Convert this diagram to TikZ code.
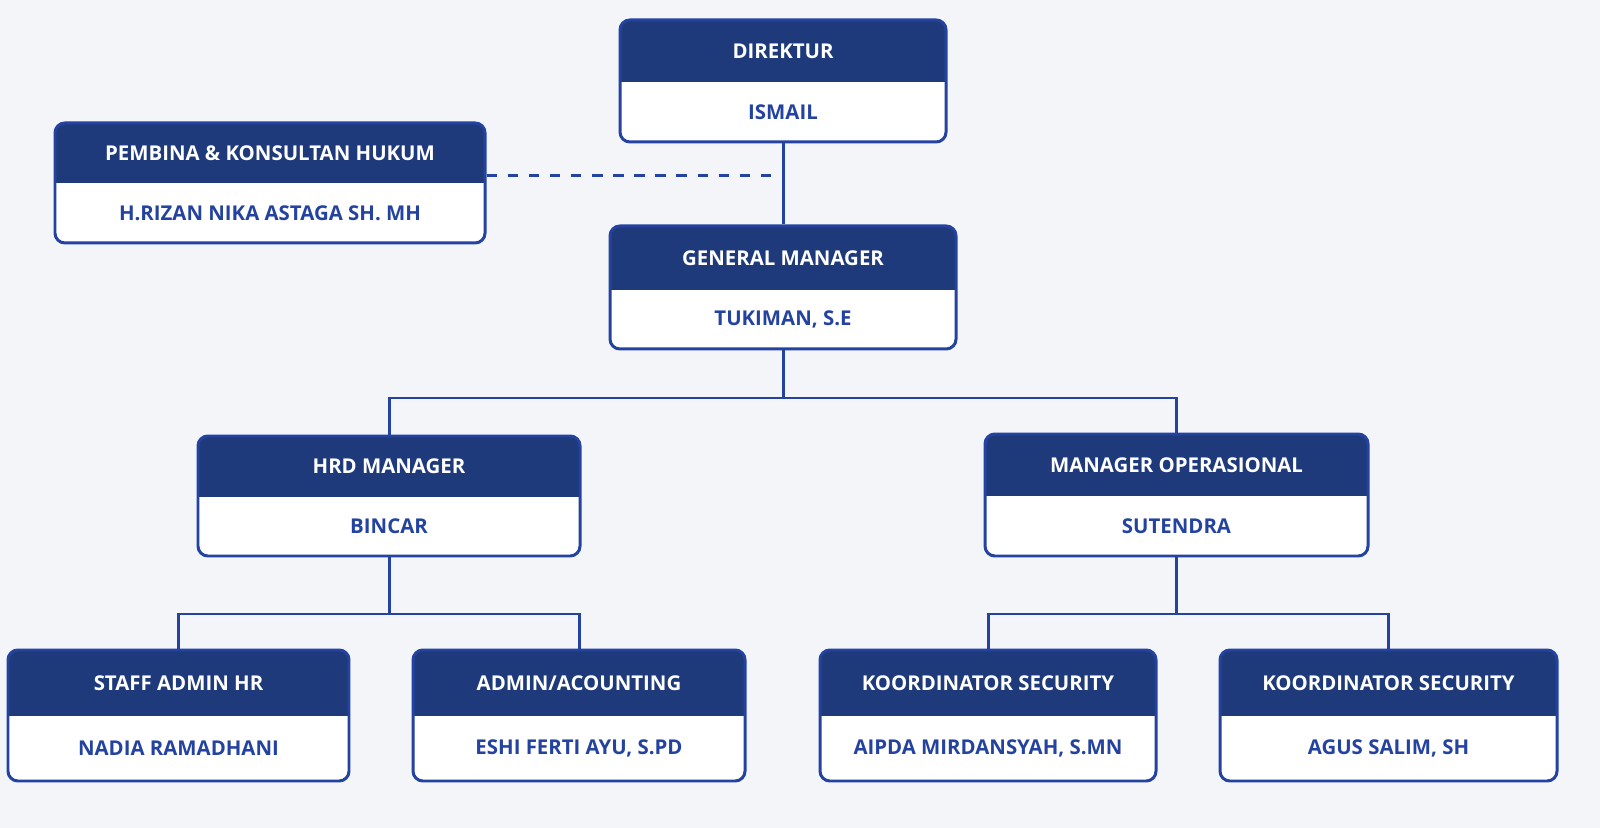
\documentclass[tikz,border=0pt]{standalone}
\usepackage{fontspec}
\setmainfont{Open Sans}
\usetikzlibrary{fit}

\definecolor{navy}{HTML}{1E3A7B}
\definecolor{ink}{HTML}{2443A0}
\definecolor{paper}{HTML}{F4F5F9}

\tikzset{
  unit/.style={draw=ink, line width=0.85pt, rounded corners=2.8pt, inner sep=0pt},
  headtext/.style={text=white, font=\fontsize{5.8}{7}\selectfont\bfseries},
  nametext/.style={text=ink, font=\fontsize{5.8}{7}\selectfont\bfseries},
  link/.style={draw=ink, line width=0.85pt}
}

% box: name, x1, y1, x2, y2, split, title, person
\newcommand{\orgunit}[8]{%
  \fill[white, rounded corners=2.8pt] (#2,#3) rectangle (#4,#5);
  \fill[navy, rounded corners=2.8pt] (#2,#3) rectangle (#4,#6);
  \fill[navy] (#2,{#6-10}) rectangle (#4,#6);
  \node[unit, fit={(#2,#3) (#4,#5)}] (#1) {};
  \node[headtext] (#1-t) at ({(#2+#4)/2},{(#3+#6)/2}) {#7};
  \node[nametext] (#1-n) at ({(#2+#4)/2},{(#6+#5)/2}) {#8};
}

\begin{document}
\begin{tikzpicture}[x=0.01cm, y=-0.01cm]
\fill[paper] (0,0) rectangle (1600,828);
\useasboundingbox (0,0) rectangle (1600,828);

% top level
\orgunit{dir}{620}{20}{946}{142}{82}{DIREKTUR}{ISMAIL}
\orgunit{pem}{55}{123}{485}{243}{183}{PEMBINA \& KONSULTAN HUKUM}{H.RIZAN NIKA ASTAGA SH. MH}
\orgunit{gm}{610}{226}{956}{349}{290}{GENERAL MANAGER}{TUKIMAN, S.E}

% managers
\orgunit{hrd}{198}{436}{580}{556}{497}{HRD MANAGER}{BINCAR}
\orgunit{ops}{985}{434}{1368}{556}{496}{MANAGER OPERASIONAL}{SUTENDRA}

% staff
\orgunit{staff}{8}{650}{349}{781}{716}{STAFF ADMIN HR}{NADIA RAMADHANI}
\orgunit{acc}{413}{650}{745}{781}{716}{ADMIN/ACOUNTING}{ESHI FERTI AYU, S.PD}
\orgunit{koor}{820}{650}{1156}{781}{716}{KOORDINATOR SECURITY}{AIPDA MIRDANSYAH, S.MN}
\orgunit{koorb}{1220}{650}{1557}{781}{716}{KOORDINATOR SECURITY}{AGUS SALIM, SH}

\coordinate (gmbus) at (gm.south |- 0,398);
\coordinate (hrdbus) at (hrd.south |- 0,614);
\coordinate (opsbus) at (ops.south |- 0,614);

\draw[link] (dir) -- (gm);
\draw[link, dashed] (pem.east |- 0,176) -- (dir.south |- 0,176);
\draw[link] (gm.south) -- (gmbus) -| (hrd.north);
\draw[link] (gmbus) -| (ops.north);
\draw[link] (hrd.south) -- (hrdbus) -| (staff.north);
\draw[link] (hrdbus) -| (acc.north);
\draw[link] (ops.south) -- (opsbus) -| (koor.north);
\draw[link] (opsbus) -| (koorb.north);
\end{tikzpicture}
\end{document}
